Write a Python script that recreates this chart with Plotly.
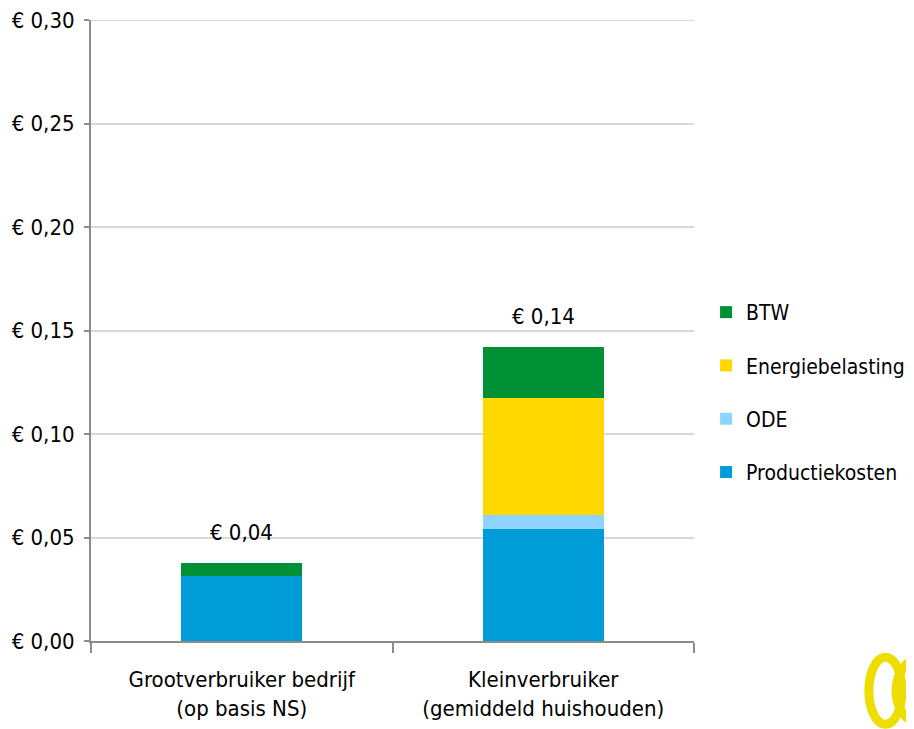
import plotly.graph_objects as go

categories = ["Grootverbruiker bedrijf<br>(op basis NS)", "Kleinverbruiker<br>(gemiddeld huishouden)"]
productiekosten = [0.0313, 0.0541]
ode = [0.0, 0.0066]
energiebelasting = [0.0, 0.0568]
btw = [0.0064, 0.0247]
total_labels = ["€ 0,04", "€ 0,14"]
tick_vals = [0.0, 0.05, 0.10, 0.15, 0.20, 0.25, 0.30]
tick_text = ["€ 0,00", "€ 0,05", "€ 0,10", "€ 0,15", "€ 0,20", "€ 0,25", "€ 0,30"]

FONT = "DejaVu Sans Condensed, sans-serif"
FS = 22

series = [
    ("Productiekosten", productiekosten, "#009CD8", 4),
    ("ODE", ode, "#8FD3FF", 3),
    ("Energiebelasting", energiebelasting, "#FFD800", 2),
    ("BTW", btw, "#009035", 1),
]

fig = go.Figure()
for name, vals, col, rank in series:
    fig.add_trace(go.Bar(x=categories, y=vals, name=name, marker_color=col,
                         marker_line_width=0, legendgroup=name, legendrank=rank))

totals = [sum(v) for v in zip(productiekosten, ode, energiebelasting, btw)]
for c, t, lab in zip(categories, totals, total_labels):
    fig.add_annotation(x=c, y=t, text=lab, showarrow=False, yanchor="bottom",
                       yshift=16, font=dict(family=FONT, size=FS, color="#000"))

# top gridline at the range edge (plotly omits it)
fig.add_shape(type="line", xref="paper", yref="y", x0=0, x1=1,
              y0=tick_vals[-1], y1=tick_vals[-1], line=dict(color="#d9d9d9", width=2),
              layer="below")

# decorative logo rings
fig.add_shape(type="circle", xref="paper", yref="paper", x0=1.290, x1=1.345,
              y0=-0.134, y1=-0.026, line=dict(color="#EEDD00", width=9))
fig.add_shape(type="circle", xref="paper", yref="paper", x0=1.335, x1=1.425,
              y0=-0.134, y1=-0.026, line=dict(color="#EEDD00", width=9),
              fillcolor="rgba(0,0,0,0)")

fig.update_layout(
    width=906, height=721,
    margin=dict(l=83, r=220, t=12, b=88, autoexpand=False),
    barmode="stack", bargap=0.6,
    paper_bgcolor="white", plot_bgcolor="white",
    font=dict(family=FONT, size=FS, color="#000"),
    showlegend=True,
    legend=dict(x=1.02, y=0.562, xanchor="left", yanchor="top",
                traceorder="grouped", tracegroupgap=23,
                font=dict(family=FONT, size=21), itemwidth=30),
)
fig.update_xaxes(showline=True, linecolor="#8c8c8c", linewidth=2,
                 ticks="outside", tickson="boundaries", ticklen=10,
                 tickcolor="#8c8c8c", tickwidth=2, automargin=False,
                 ticklabelstandoff=18,
                 tickfont=dict(family=FONT, size=FS))
fig.update_yaxes(range=[0, 0.30], tickvals=tick_vals, ticktext=tick_text,
                 showline=True, linecolor="#8c8c8c", linewidth=2,
                 ticks="outside", ticklen=5, tickcolor="#8c8c8c", tickwidth=2,
                 showgrid=True, gridcolor="#d9d9d9", gridwidth=2, automargin=False,
                 ticklabelstandoff=5, ticklabeloverflow="allow",
                 zeroline=False, tickfont=dict(family=FONT, size=FS))

fig.write_html("out.html")
